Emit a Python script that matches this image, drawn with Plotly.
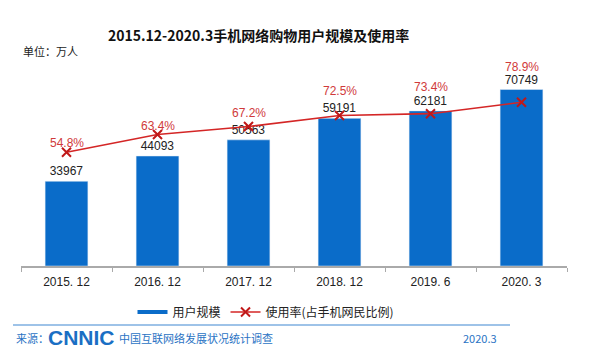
import plotly.graph_objects as go

categories = ["2015. 12", "2016. 12", "2017. 12", "2018. 12", "2019. 6", "2020. 3"]
users = [33967, 44093, 50563, 59191, 62181, 70749]
rate = [54.8, 63.4, 67.2, 72.5, 73.4, 78.9]
rate_label_shift = [9, 8, 14, 25, 27, 35]

BLUE = "#0a6cc9"
RED = "#d42626"
FONT = "Noto Sans CJK SC"

T, B, L, R = 40, 89, 21, 25
PH = 355 - T - B
PW = 592 - L - R


def px_x(x):
    return (x - L) / PW


def px_y(y):
    return (355 - B - y) / PH


fig = go.Figure()
fig.add_trace(go.Bar(
    x=categories, y=users, name="用户规模", marker_color=BLUE, width=0.47,
    text=[str(v) for v in users], textposition="outside",
    textfont=dict(size=12, color="#222222", family="Liberation Sans"),
    cliponaxis=False, showlegend=False,
))
# legend proxy for bar series (drawn as thick line like reference)
fig.add_trace(go.Scatter(x=[None], y=[None], mode="lines", name="用户规模",
                         line=dict(color=BLUE, width=4), showlegend=True))
fig.add_trace(go.Scatter(
    x=categories, y=rate, yaxis="y2", mode="lines+markers", name="使用率(占手机网民比例)",
    line=dict(color=RED, width=1.6),
    marker=dict(symbol="x-thin", size=9, line=dict(color="#c01818", width=2), color="#c01818"),
))
for c, r, s in zip(categories, rate, rate_label_shift):
    fig.add_annotation(x=c, y=r, yref="y2", text=f"{r}%", showarrow=False, yshift=s,
                       font=dict(size=12, color="#d03a3a", family="Liberation Sans"))

fig.update_layout(
    width=592, height=355,
    margin=dict(l=L, r=R, t=T, b=B, autoexpand=False),
    paper_bgcolor="white", plot_bgcolor="white",
    font=dict(family=FONT, color="#222222"),
    xaxis=dict(showline=True, linecolor="#aaaaaa", linewidth=1.5, ticks="outside",
               tickson="boundaries", ticklen=4, tickcolor="#aaaaaa", ticklabelstandoff=4,
               tickfont=dict(size=12, family="Liberation Sans", color="#222222"),
               showgrid=False, fixedrange=True),
    yaxis=dict(range=[0, 90600], visible=False, showgrid=False),
    yaxis2=dict(range=[0, 108.9], overlaying="y", side="right", visible=False, showgrid=False),
    legend=dict(orientation="h", x=px_x(266), xanchor="center", y=px_y(312), yanchor="middle",
                font=dict(size=12, family=FONT, color="#222222"), itemwidth=30,
                traceorder="normal", bgcolor="rgba(0,0,0,0)"),
    showlegend=True,
)

# Title
fig.add_annotation(xref="paper", yref="paper", x=px_x(258), y=px_y(35),
                   text="<b>2015.12-2020.3手机网络购物用户规模及使用率</b>", showarrow=False,
                   xanchor="center", yanchor="middle", font=dict(size=14, family=FONT, color="#111111"))
fig.add_annotation(xref="paper", yref="paper", x=px_x(21), y=px_y(51),
                   text="单位：万人", showarrow=False, xanchor="left", yanchor="middle",
                   font=dict(size=11, family=FONT, color="#222222"))
# Footer
fig.add_shape(type="line", xref="paper", yref="paper", x0=px_x(13), x1=px_x(510),
              y0=px_y(325), y1=px_y(325), line=dict(color="#9ec3e8", width=2))
fig.add_annotation(xref="paper", yref="paper", x=px_x(14), y=px_y(338),
                   text="来源：", showarrow=False, xanchor="left", yanchor="middle",
                   font=dict(size=11, family=FONT, color="#2a73c4"))
fig.add_annotation(xref="paper", yref="paper", x=px_x(46), y=px_y(337),
                   text="<b>CNNIC</b>", showarrow=False, xanchor="left", yanchor="middle",
                   font=dict(size=21, family="Liberation Sans", color="#1a6fc4"))
fig.add_annotation(xref="paper", yref="paper", x=px_x(117), y=px_y(338),
                   text="中国互联网络发展状况统计调查", showarrow=False, xanchor="left", yanchor="middle",
                   font=dict(size=11, family=FONT, color="#2a73c4"))
fig.add_annotation(xref="paper", yref="paper", x=px_x(499), y=px_y(338),
                   text="2020.3", showarrow=False, xanchor="right", yanchor="middle",
                   font=dict(size=11, family=FONT, color="#2a73c4"))

fig.write_html("out.html", config={"displayModeBar": False},
               post_script="document.body.style.margin='0';document.body.style.overflow='hidden';")
